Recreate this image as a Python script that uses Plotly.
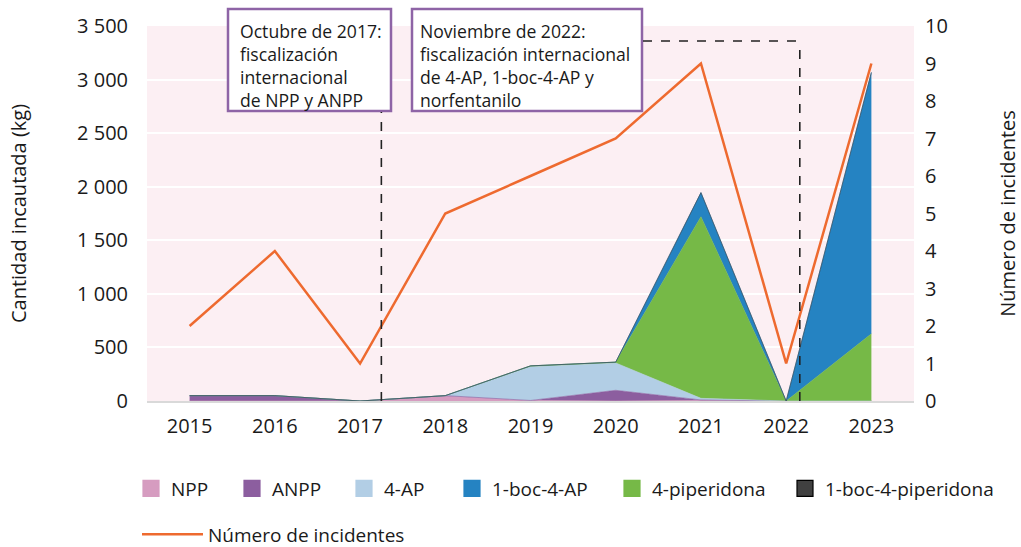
import plotly.graph_objects as go

years = [2015, 2016, 2017, 2018, 2019, 2020, 2021, 2022, 2023]
npp = [0, 0, 0, 45, 5, 0, 5, 0, 0]
anpp = [50, 50, 0, 5, 0, 100, 5, 0, 0]
ap4 = [0, 0, 0, 0, 315, 255, 15, 0, 0]
piperidona4 = [0, 0, 0, 0, 8, 8, 1695, 0, 627]
boc4ap = [0, 0, 0, 0, 0, 0, 225, 0, 2440]
boc4piperidona = [0, 0, 0, 0, 0, 0, 0, 0, 0]
incidentes = [2, 4, 1, 5, 6, 7, 9, 1, 9]

C_NPP = "#D69CC0"
C_ANPP = "#8C5E9F"
C_4AP = "#B2CEE5"
C_BOC4AP = "#2583C2"
C_PIP = "#76B947"
C_BOCPIP = "#404040"
C_LINE = "#EE6A2F"
C_BOX = "#8E64A6"

FONT = "Open Sans"

fig = go.Figure()

L, T, W, H = 147, 26, 767, 375
def px(x):
    return (x - L) / W
def py(y):
    return (T + H - y) / H

# stacked areas (stack order as drawn in the picture)
stack = [
    ("NPP", npp, C_NPP),
    ("ANPP", anpp, C_ANPP),
    ("4-AP", ap4, C_4AP),
    ("4-piperidona", piperidona4, C_PIP),
    ("1-boc-4-AP", boc4ap, C_BOC4AP),
    ("1-boc-4-piperidona", boc4piperidona, C_BOCPIP),
]
for name, vals, col in stack:
    fig.add_trace(go.Scatter(
        x=years, y=vals, name=name, stackgroup="kg", mode="lines",
        line=dict(width=0.6, color=col), fillcolor=col, showlegend=False,
        hoverinfo="x+y+name"))

fig.add_trace(go.Scatter(
    x=years, y=incidentes, name="Número de incidentes", yaxis="y2",
    mode="lines", line=dict(color=C_LINE, width=2.5), legend="legend7"))

# legend proxies, one legend each, placed like the reference
legend_items = [
    ("NPP", C_NPP, C_NPP, 131),
    ("ANPP", C_ANPP, C_ANPP, 232),
    ("4-AP", C_4AP, C_4AP, 344),
    ("1-boc-4-AP", C_BOC4AP, C_BOC4AP, 452),
    ("4-piperidona", C_PIP, C_PIP, 612),
    ("1-boc-4-piperidona", C_BOCPIP, "#000000", 785),
]
legend_layout = {}
for i, (name, col, lc, xpos) in enumerate(legend_items):
    key = "legend" if i == 0 else f"legend{i + 1}"
    fig.add_trace(go.Scatter(
        x=[None], y=[None], name=name, mode="markers",
        marker=dict(symbol="square", size=16, color=col, line=dict(color=lc, width=1.2)),
        showlegend=True, legend=key))
    legend_layout[key] = dict(orientation="h", x=px(xpos), xanchor="left", y=py(469.5),
                              yanchor="top", font=dict(size=19), bgcolor="rgba(0,0,0,0)")
legend_layout["legend7"] = dict(orientation="h", x=px(137), xanchor="left", y=py(515.5),
                                yanchor="top", font=dict(size=19), bgcolor="rgba(0,0,0,0)",
                                itemwidth=61)

shapes = [
    dict(type="rect", xref="paper", yref="paper", x0=px(228), x1=px(391), y0=py(111), y1=py(9),
         fillcolor="white", line=dict(color=C_BOX, width=2.5), layer="above"),
    dict(type="rect", xref="paper", yref="paper", x0=px(412), x1=px(642), y0=py(111), y1=py(9),
         fillcolor="white", line=dict(color=C_BOX, width=2.5), layer="above"),
    dict(type="line", xref="x", yref="paper", x0=2017.25, x1=2017.25, y0=0, y1=py(112),
         line=dict(color="#222222", width=1.6, dash="dash"), layer="above"),
    dict(type="line", xref="x", yref="paper", x0=2022.16, x1=2022.16, y0=0, y1=py(41),
         line=dict(color="#222222", width=1.6, dash="dash"), layer="above"),
    dict(type="line", xref="paper", yref="paper", x0=px(643), x1=px(800), y0=py(41), y1=py(41),
         line=dict(color="#222222", width=1.6, dash="dash"), layer="above"),
]

annotations = [
    dict(xref="paper", yref="paper", x=px(238), y=py(17), xanchor="left", yanchor="top",
         align="left", showarrow=False,
         text="Octubre de 2017:<br>fiscalización<br>internacional<br>de NPP y ANPP",
         font=dict(family=FONT, size=17.6, color="#1a1a1a")),
    dict(xref="paper", yref="paper", x=px(418), y=py(17), xanchor="left", yanchor="top",
         align="left", showarrow=False,
         text="Noviembre de 2022:<br>fiscalización internacional<br>de 4-AP, 1-boc-4-AP y<br>norfentanilo",
         font=dict(family=FONT, size=17.6, color="#1a1a1a")),
]

fig.update_layout(
    width=1021, height=547,
    margin=dict(l=L, r=1021 - L - W, t=T, b=547 - T - H, autoexpand=False),
    paper_bgcolor="white", plot_bgcolor="#FCEFF3",
    font=dict(family=FONT, size=18, color="#1a1a1a"),
    separators=", ",
    showlegend=True,
    xaxis=dict(range=[2014.5, 2023.5], tickvals=years, ticktext=[str(y) for y in years],
               showgrid=False, zeroline=False, showline=True, linecolor="#D9D9D9", linewidth=2,
               ticks="", tickfont=dict(size=20), ticklabelstandoff=6),
    yaxis=dict(range=[0, 3500], dtick=500, tickformat=",d", separatethousands=True,
               showgrid=True, gridcolor="white", gridwidth=2, zeroline=False,
               ticks="", ticklabelstandoff=18, tickfont=dict(size=20),
               title=dict(text="Cantidad incautada (kg)", standoff=45, font=dict(size=20))),
    yaxis2=dict(range=[0, 10], dtick=1, overlaying="y", side="right", showgrid=False,
                zeroline=False, ticks="", tickfont=dict(size=20), ticklabelstandoff=10,
                title=dict(text="Número de incidentes", standoff=54, font=dict(size=20))),
    shapes=shapes, annotations=annotations,
    **legend_layout,
)

fig.write_html("out.html", config={"displayModeBar": False},
               post_script="document.body.style.margin='0';")
